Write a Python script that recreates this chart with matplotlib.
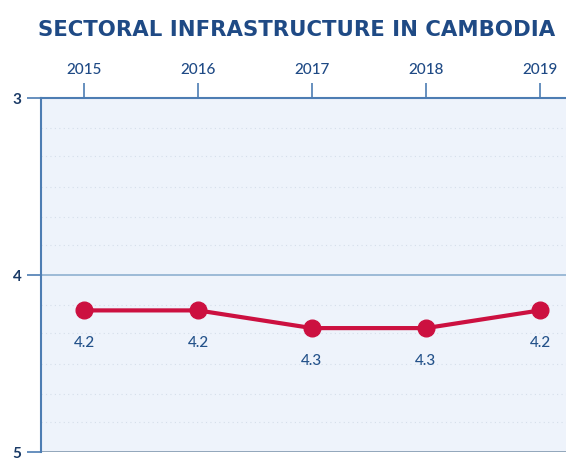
import matplotlib.pyplot as plt

years = [2015, 2016, 2017, 2018, 2019]
values = [4.2, 4.2, 4.3, 4.3, 4.2]
labels = ["4.2", "4.2", "4.3", "4.3", "4.2"]
yticks = [3, 4, 5]
title = "SECTORAL INFRASTRUCTURE IN CAMBODIA"

navy = "#1f4a85"
spine = "#4d7db3"
red = "#cc1040"

fig = plt.figure(figsize=(5.66, 4.60), dpi=100)
ax = fig.add_axes([41/566, 1 - 453/460, 1 - 41/566, (453 - 99)/460])
ax.set_facecolor("#eef3fb")

ax.set_xlim(2014.623, 2019.228)
ax.set_ylim(5, 3)

for y in [3.17, 3.33, 3.5, 3.67, 3.83, 4.17, 4.33, 4.5, 4.67, 4.83]:
    ax.axhline(y, color="#d5deea", lw=0.8, ls=(0, (1, 3)), zorder=1)
ax.axhline(4, color="#8fb0d0", lw=1.2, zorder=2)
ax.axhline(5, color="#8a9fb5", lw=2.0, zorder=2)

ax.plot(years, values, color=red, lw=3, marker="o", markersize=12, zorder=5,
        solid_capstyle="round")
for x, v, l in zip(years, values, labels):
    ax.annotate(l, (x, v), xytext=(0, -23), textcoords="offset points",
                ha="center", va="center", fontsize=11, color="#24528a",
                family="Lato", fontweight="medium")

ax.xaxis.tick_top()
ax.set_xticks(years)
ax.set_xticklabels([str(y) for y in years], fontsize=11, color=navy,
                   family="Lato", fontweight="medium")
ax.tick_params(axis="x", direction="out", length=11, width=1.2, color=spine, pad=5)
ax.set_yticks(yticks)
ax.set_yticklabels([str(t) for t in yticks], fontsize=11, color="#1a3a66",
                   family="Lato", fontweight="bold")
ax.tick_params(axis="y", direction="out", length=10, width=1.2, color=spine, pad=4)

for s in ["right", "bottom"]:
    ax.spines[s].set_visible(False)
for s in ["left", "top"]:
    ax.spines[s].set_color(spine)
    ax.spines[s].set_linewidth(1.5)

fig.text(297/566, 1 - 30/460, title, ha="center", va="center", fontsize=15.3,
         fontweight="bold", color=navy, family="DejaVu Sans")

fig.savefig("out.png", dpi=100)
